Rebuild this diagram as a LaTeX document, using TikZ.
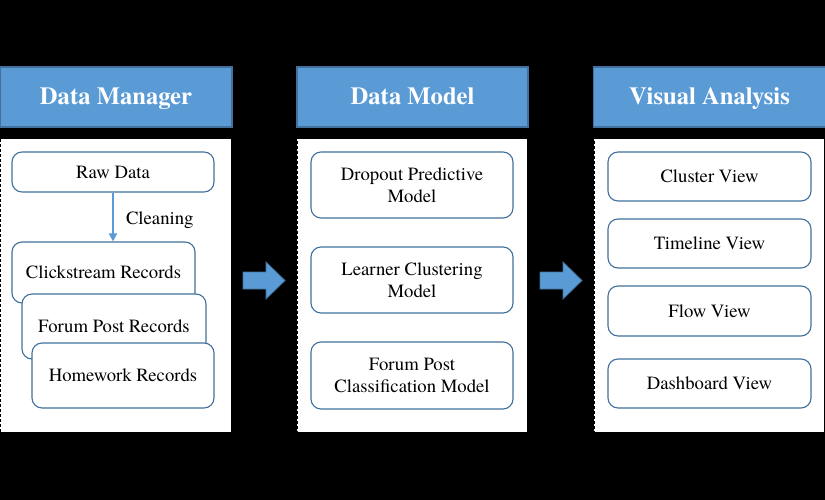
\documentclass[tikz,border=0pt]{standalone}
\usepackage{fontspec}
\setmainfont{texgyretermes}[Extension=.otf, UprightFont=*-regular, BoldFont=*-bold, ItalicFont=*-italic, BoldItalicFont=*-bolditalic]
\usetikzlibrary{arrows.meta,calc}
\definecolor{hdrblue}{HTML}{5B9BD5}
\definecolor{edgeblue}{HTML}{41719C}
\begin{document}
\begin{tikzpicture}[x=1pt,y=-1pt,
  hdr/.style={draw=edgeblue, line width=1.3pt, fill=hdrblue, text=white,
    font=\fontsize{24.6}{28}\selectfont\bfseries, inner sep=0pt, text height=16pt, text depth=0pt},
  panel/.style={draw=black, fill=white, dash pattern=on 3pt off 2pt, line width=1pt, inner sep=0pt},
  rbox/.style={draw=edgeblue, line width=1.1pt, fill=white, rounded corners=10pt,
    font=\fontsize{18.7}{22}\selectfont, align=center, inner sep=0pt},
  blockarrow/.style={fill=hdrblue, draw=edgeblue, line width=0.8pt},
  flowarrow/.style={draw=hdrblue, line width=2pt, -{Triangle[width=8pt,length=8pt]}}
]
\fill[black] (0,0) rectangle (825,500);
\useasboundingbox (0,0) rectangle (825,500);

% headers
\node[hdr, minimum width=232pt, minimum height=60pt] (h1) at (116,97) {Data Manager};
\node[hdr, minimum width=231pt, minimum height=60pt] (h2) at (412.5,97) {Data Model};
\node[hdr, minimum width=232pt, minimum height=60pt] (h3) at (709.5,97) {Visual Analysis};

% panels
\node[panel, minimum width=231pt, minimum height=293pt] (p1) at (115.5,285.5) {};
\node[panel, minimum width=230pt, minimum height=293pt] (p2) at (412,285.5) {};
\node[panel, minimum width=230pt, minimum height=293pt] (p3) at (709,285.5) {};

% Data Manager
\node[rbox, minimum width=202pt, minimum height=40pt] (raw) at (113,172) {Raw Data};
\node[rbox, minimum width=183pt, minimum height=61pt] (click) at (103.5,272.5) {Clickstream Records};
\node[rbox, minimum width=184pt, minimum height=65pt] (forum) at (114,326.5) {Forum Post Records};
\node[rbox, minimum width=182pt, minimum height=65pt] (home) at (123,375.5) {Homework Records};
\draw[flowarrow] (raw.south -| 113,0) -- (click.north -| 113,0)
  node[midway, right=12pt, yshift=-3pt, font=\fontsize{18.7}{22}\selectfont, inner sep=0pt] (clean) {Cleaning};

% Data Model
\node[rbox, minimum width=202pt, minimum height=66pt] (drop) at (412,185) {Dropout Predictive\\Model};
\node[rbox, minimum width=202pt, minimum height=66pt] (learn) at (412,280) {Learner Clustering\\Model};
\node[rbox, minimum width=202pt, minimum height=67pt] (fpc) at (412,375.5) {Forum Post\\Classification Model};

% Visual Analysis
\node[rbox, minimum width=203pt, minimum height=49pt] (clus) at (709.5,176.5) {Cluster View};
\node[rbox, minimum width=203pt, minimum height=49pt] (time) at (709.5,243.5) {Timeline View};
\node[rbox, minimum width=203pt, minimum height=50pt] (flow) at (709.5,311) {Flow View};
\node[rbox, minimum width=203pt, minimum height=49pt] (dash) at (709.5,383.5) {Dashboard View};

% block arrows between panels
\draw[blockarrow] (243,272) -- (266,272) -- (266,262) -- (285,280.5) -- (266,299) -- (266,289) -- (243,289) -- cycle;
\draw[blockarrow] (540,272) -- (563,272) -- (563,262) -- (582,280.5) -- (563,299) -- (563,289) -- (540,289) -- cycle;
\end{tikzpicture}
\end{document}
